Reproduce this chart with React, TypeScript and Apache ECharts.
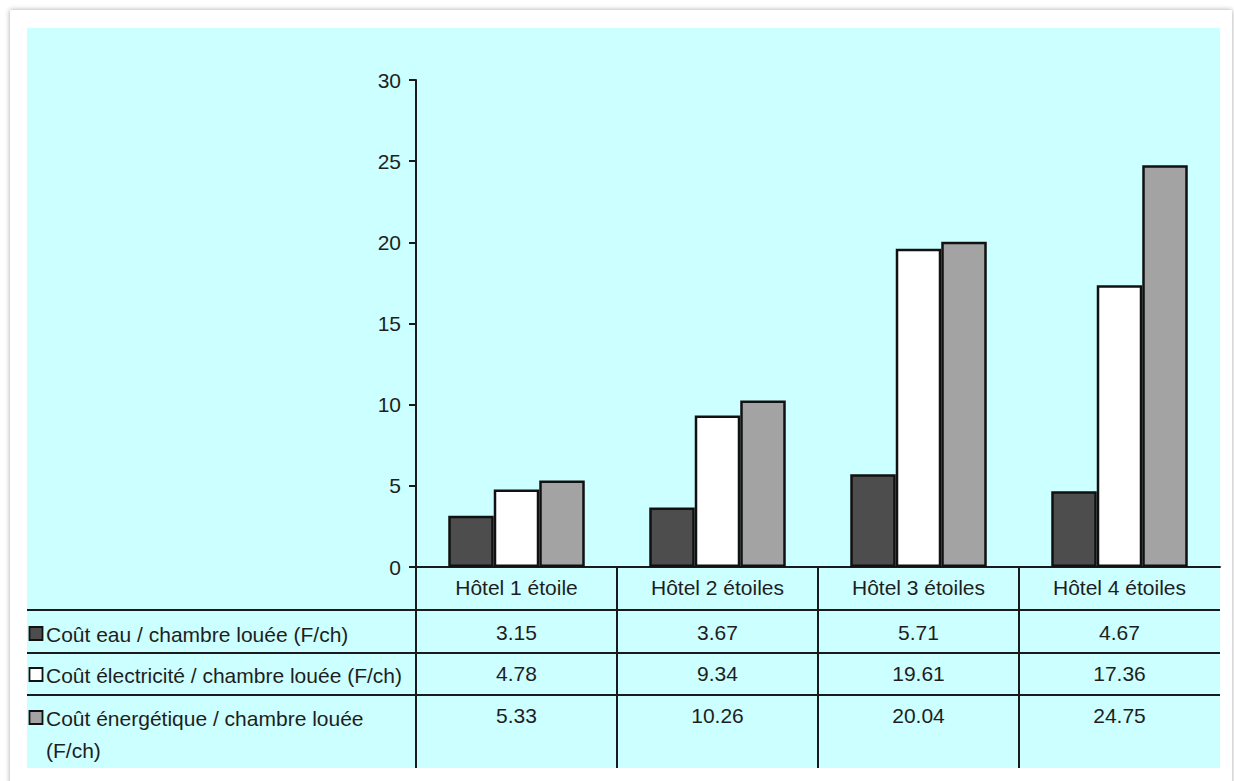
import React, { useEffect, useRef } from "react";
import * as echarts from "echarts";

const categories = ["Hôtel 1 étoile", "Hôtel 2 étoiles", "Hôtel 3 étoiles", "Hôtel 4 étoiles"];
const seriesNames = [
  "Coût eau / chambre louée (F/ch)",
  "Coût électricité / chambre louée (F/ch)",
  "Coût énergétique / chambre louée\n(F/ch)",
];
const coutEau = [3.15, 3.67, 5.71, 4.67];
const coutElectricite = [4.78, 9.34, 19.61, 17.36];
const coutEnergetique = [5.33, 10.26, 20.04, 24.75];
const seriesValues = [coutEau, coutElectricite, coutEnergetique];
const seriesColors = ["#4d4d4d", "#ffffff", "#a3a3a3"];
const yMin = 0;
const yMax = 30;
const yInterval = 5;

const FONT = "'Liberation Sans', Arial, sans-serif";
const TEXT = "#1e1e1e";
const LINE = "#1a1a1a";
const FS = 21;

export default function App() {
  const ref = useRef<HTMLDivElement>(null);

  useEffect(() => {
    if (!ref.current) return;
    const chart = echarts.init(ref.current, undefined, { renderer: "svg" });
    const option: any = {
      animation: false,
      backgroundColor: "transparent",
      grid: { left: 416, right: 14, top: 80, bottom: 214, containLabel: false },
      xAxis: {
        type: "category",
        data: categories,
        axisLine: { show: true, lineStyle: { color: LINE, width: 2 } },
        axisTick: { show: false },
        axisLabel: { fontSize: FS, color: TEXT, fontFamily: FONT, margin: 10 },
      },
      yAxis: {
        type: "value",
        min: yMin,
        max: yMax,
        interval: yInterval,
        splitLine: { show: false },
        axisLine: { show: true, lineStyle: { color: LINE, width: 2 } },
        axisTick: { show: true, length: 7, lineStyle: { color: LINE, width: 2 } },
        axisLabel: { fontSize: FS, color: TEXT, fontFamily: FONT, margin: 15 },
      },
      series: seriesValues.map((vals, i) => ({
        type: "bar",
        name: seriesNames[i],
        data: vals,
        barWidth: 45.5,
        barGap: "0%",
        itemStyle: { color: seriesColors[i], borderColor: "#111", borderWidth: 2.5 },
      })),
    };
    chart.setOption(option);

    // Build the data table below the axis from the library's scales
    const c0 = chart.convertToPixel({ xAxisIndex: 0 }, 0) as number;
    const c1 = chart.convertToPixel({ xAxisIndex: 0 }, 1) as number;
    const band = c1 - c0;
    const yZero = chart.convertToPixel({ yAxisIndex: 0 }, yMin) as number;
    const axisLeft = c0 - band / 2;
    const axisRight = axisLeft + band * categories.length;
    const tableLeft = 27;
    const tableBottom = 768;
    const rowLines = [yZero + 43, yZero + 86, yZero + 128];
    const valueY = [yZero + 65, yZero + 106, yZero + 148];
    const legendY = [yZero + 67, yZero + 108, yZero + 151];

    const g: any[] = [];
    rowLines.forEach((y) => {
      g.push({
        type: "line",
        shape: { x1: tableLeft, y1: y, x2: axisRight, y2: y },
        style: { stroke: LINE, lineWidth: 2 },
        z: 10,
      });
    });
    for (let i = 0; i < categories.length; i++) {
      const x = axisLeft + band * i;
      g.push({
        type: "line",
        shape: { x1: x, y1: yZero, x2: x, y2: tableBottom },
        style: { stroke: LINE, lineWidth: 2 },
        z: 10,
      });
    }
    seriesValues.forEach((vals, r) => {
      const last = r === seriesValues.length - 1;
      g.push({
        type: "rect",
        shape: { x: 29.5, y: legendY[r] - 7, width: 13, height: 13 },
        style: { fill: seriesColors[r], stroke: "#111", lineWidth: 1.8 },
        z: 10,
      });
      g.push({
        type: "text",
        x: 46,
        y: last ? legendY[r] - 16 : legendY[r],
        style: {
          text: seriesNames[r],
          font: `${FS}px ${FONT}`,
          fill: TEXT,
          align: "left",
          verticalAlign: last ? "top" : "middle",
          lineHeight: 32,
        },
        z: 10,
      });
      vals.forEach((v, i) => {
        g.push({
          type: "text",
          x: c0 + band * i,
          y: valueY[r],
          style: {
            text: v.toFixed(2),
            font: `${FS}px ${FONT}`,
            fill: TEXT,
            align: "center",
            verticalAlign: "middle",
          },
          z: 10,
        });
      });
    });
    chart.setOption({ graphic: g });

    return () => chart.dispose();
  }, []);

  return (
    <div style={{ position: "fixed", left: 0, top: 0, width: 1234, height: 781, background: "#ffffff", overflow: "hidden" }}>
      <div
        style={{
          position: "absolute",
          left: 10,
          top: 10,
          width: 1222,
          height: 800,
          background: "#ffffff",
          boxShadow: "0 0 5px rgba(0,0,0,0.35)",
        }}
      />
      <div style={{ position: "absolute", left: 27, top: 28, width: 1193, height: 740, background: "#ccffff" }} />
      <div ref={ref} style={{ position: "absolute", left: 0, top: 0, width: 1234, height: 781 }} />
    </div>
  );
}
